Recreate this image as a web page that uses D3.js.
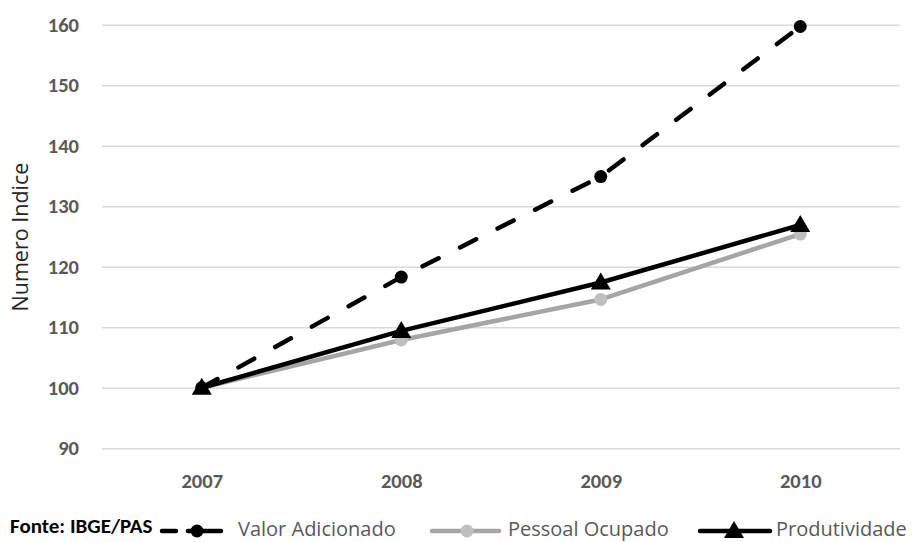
<!DOCTYPE html>
<html>
<head>
<meta charset="utf-8">
<script src="https://cdn.jsdelivr.net/npm/d3@7/dist/d3.min.js"></script>
<style>
  html, body { margin: 0; padding: 0; background: #ffffff; }
  svg { display: block; }
</style>
</head>
<body>
<svg id="chart" width="914" height="542"></svg>
<script>
// Índices (2007 = 100)
const anos = ["2007", "2008", "2009", "2010"];
const valorAdicionado = [100, 118.3, 134.9, 159.7];
const pessoalOcupado = [100, 107.9, 114.6, 125.4];
const produtividade = [100, 109.4, 117.4, 126.9];
const yTicks = [90, 100, 110, 120, 130, 140, 150, 160];
const nomesSeries = ["Valor Adicionado", "Pessoal Ocupado", "Produtividade"];

const svg = d3.select("#chart");
const tickFont = "Carlito, Lato, 'Liberation Sans', sans-serif";
const textFont = "'Open Sans', 'Noto Sans', sans-serif";

const x = d3.scalePoint().domain(anos).range([102, 900]).padding(0.5);
const y = d3.scaleLinear().domain([90, 160]).range([448.3, 24.7]);

// grade horizontal
const yAxis = d3.axisLeft(y).tickValues(yTicks).tickSize(-(900 - 102)).tickPadding(23);
const gy = svg.append("g").attr("transform", "translate(102,0)").call(yAxis);
gy.select(".domain").remove();
gy.selectAll(".tick line").attr("stroke", "#d9d9d9").attr("stroke-width", 1.5);
gy.selectAll(".tick text")
  .attr("fill", "#595959").attr("font-family", tickFont)
  .attr("font-weight", "bold").attr("font-size", 20.5);

// eixo x
const xAxis = d3.axisBottom(x).tickSize(0).tickPadding(0);
const gx = svg.append("g").attr("transform", "translate(0,488)").call(xAxis);
gx.select(".domain").remove();
gx.selectAll(".tick text")
  .attr("dy", 0)
  .attr("fill", "#595959").attr("font-family", tickFont)
  .attr("font-weight", "bold").attr("font-size", 20.5);

// título do eixo y
svg.append("text")
  .attr("transform", "translate(28,237) rotate(-90)")
  .attr("text-anchor", "middle")
  .attr("font-family", textFont).attr("font-size", 21.5)
  .attr("fill", "#262626")
  .text("Numero Indice");

const series = [
  { nome: nomesSeries[0], valores: valorAdicionado, cor: "#000000", dash: "18,24", marcador: "circle", fill: "#000000" },
  { nome: nomesSeries[1], valores: pessoalOcupado, cor: "#a5a5a5", dash: null, marcador: "circle", fill: "#bfbfbf" },
  { nome: nomesSeries[2], valores: produtividade, cor: "#000000", dash: null, marcador: "triangle", fill: "#000000" }
];

const line = d3.line().x((d, i) => x(anos[i])).y(d => y(d));
const triangulo = "M0,-10L10,7L-10,7Z";

function marcador(g, s, cx, cy) {
  if (s.marcador === "circle") {
    g.append("circle").attr("cx", cx).attr("cy", cy).attr("r", 6.5).attr("fill", s.fill);
  } else {
    g.append("path").attr("d", triangulo).attr("transform", `translate(${cx},${cy})`).attr("fill", s.fill);
  }
}

// linhas e marcadores (ordem: pessoal, valor, produtividade)
[series[1], series[0], series[2]].forEach(s => {
  const g = svg.append("g");
  g.append("path")
    .attr("d", line(s.valores))
    .attr("fill", "none")
    .attr("stroke", s.cor)
    .attr("stroke-width", 4.5)
    .attr("stroke-linecap", s.dash ? "round" : "butt")
    .attr("stroke-linejoin", "round")
    .attr("stroke-dasharray", s.dash);
  s.valores.forEach((v, i) => marcador(g, s, x(anos[i]), y(v)));
});

// fonte
svg.append("text")
  .attr("x", 10).attr("y", 533)
  .attr("font-family", tickFont).attr("font-weight", "bold").attr("font-size", 21)
  .attr("fill", "#000000")
  .text("Fonte: IBGE/PAS");

// legenda
const legenda = [
  { s: series[0], x0: 162, x1: 221, tx: 238, mx: 197 },
  { s: series[1], x0: 432, x1: 499, tx: 508, mx: 467 },
  { s: series[2], x0: 700, x1: 770, tx: 776, mx: 734 }
];
const ly = 531;
legenda.forEach(l => {
  const g = svg.append("g");
  g.append("line")
    .attr("x1", l.x0).attr("x2", l.x1).attr("y1", ly).attr("y2", ly)
    .attr("stroke", l.s.cor).attr("stroke-width", 4.5)
    .attr("stroke-linecap", "round")
    .attr("stroke-dasharray", l.s.dash ? "14,12,60" : null);
  marcador(g, l.s, l.mx, ly);
  g.append("text")
    .attr("x", l.tx).attr("y", 536)
    .attr("font-family", textFont).attr("font-size", 20)
    .attr("fill", "#595959")
    .text(l.s.nome);
});
</script>
</body>
</html>
